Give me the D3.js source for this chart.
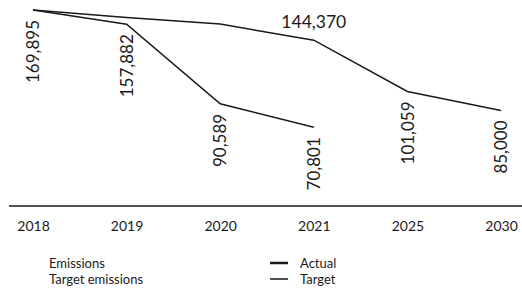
<!DOCTYPE html>
<html>
<head>
<meta charset="utf-8">
<script src="https://cdn.jsdelivr.net/npm/d3@7"></script>
<style>
  body { margin: 0; background: #fff; }
  svg { display: block; font-family: Lato, "Noto Sans", sans-serif; }
</style>
</head>
<body>
<svg id="chart"></svg>
<script>
// categories on the x axis
const years = ["2018", "2019", "2020", "2021", "2025", "2030"];

// actual emissions (only up to 2021)
const actualYears = ["2018", "2019", "2020", "2021"];
const actualValues = [169895, 157882, 90589, 70801];

// target emissions
const targetYears = ["2018", "2019", "2020", "2021", "2025", "2030"];
const targetValues = [169895, 163500, 158000, 144370, 101059, 85000];

// which points get a value label, and how
const verticalLabels = [
    { series: "actual", year: "2018" },
    { series: "actual", year: "2019" },
    { series: "actual", year: "2020" },
    { series: "actual", year: "2021" },
    { series: "target", year: "2025" },
    { series: "target", year: "2030" }
];
const horizontalLabels = [{ series: "target", year: "2021" }];

const legendNames = ["Emissions", "Target emissions"];
const legendKeys = ["Actual", "Target"];

const W = 522, H = 297;
const svg = d3.select("#chart").attr("width", W).attr("height", H);

const x = d3.scalePoint().domain(years).range([33, 501]);
const y = d3.scaleLinear().domain([0, 169895]).range([211, 10]);

const actual = actualYears.map((yr, i) => ({ year: yr, value: actualValues[i] }));
const target = targetYears.map((yr, i) => ({ year: yr, value: targetValues[i] }));
const lookup = { actual: actual, target: target };

const line = d3.line().x(d => x(d.year)).y(d => y(d.value));

svg.append("path")
    .datum(target)
    .attr("fill", "none")
    .attr("stroke", "#1a1a1a")
    .attr("stroke-width", 1.5)
    .attr("d", line);

svg.append("path")
    .datum(actual)
    .attr("fill", "none")
    .attr("stroke", "#1a1a1a")
    .attr("stroke-width", 1.6)
    .attr("d", line);

const fmt = d3.format(",");

// rotated value labels hanging under the points
svg.selectAll(".vlabel")
    .data(verticalLabels.map(l => lookup[l.series].find(d => d.year === l.year)))
    .enter()
    .append("text")
    .attr("class", "vlabel")
    .attr("transform", d => `translate(${x(d.year)},${y(d.value) + 10}) rotate(-90)`)
    .attr("text-anchor", "end")
    .attr("dy", "0.36em")
    .attr("font-size", "17px")
    .attr("fill", "#1a1a1a")
    .text(d => fmt(d.value));

svg.selectAll(".hlabel")
    .data(horizontalLabels.map(l => lookup[l.series].find(d => d.year === l.year)))
    .enter()
    .append("text")
    .attr("class", "hlabel")
    .attr("x", d => x(d.year))
    .attr("y", d => y(d.value) - 12)
    .attr("text-anchor", "middle")
    .attr("font-size", "17.5px")
    .attr("fill", "#1a1a1a")
    .text(d => fmt(d.value));

// x axis
svg.append("line")
    .attr("x1", 9).attr("x2", W)
    .attr("y1", 206).attr("y2", 206)
    .attr("stroke", "#1a1a1a")
    .attr("stroke-width", 1.6);

const xAxis = svg.append("g")
    .attr("transform", "translate(0,206)")
    .call(d3.axisBottom(x).tickSize(0).tickPadding(15));
xAxis.select(".domain").remove();
xAxis.selectAll("text")
    .attr("font-family", "Lato, sans-serif")
    .attr("font-size", "14px")
    .attr("fill", "#1a1a1a");

// legend
const legend = svg.append("g").attr("class", "legend");
legendNames.forEach((name, i) => {
    const ly = 263 + i * 16;
    legend.append("text")
        .attr("x", 49).attr("y", ly)
        .attr("dy", "0.35em")
        .attr("font-size", "13px")
        .attr("fill", "#1a1a1a")
        .text(name);
    legend.append("line")
        .attr("x1", 270).attr("x2", 288)
        .attr("y1", ly).attr("y2", ly)
        .attr("stroke", "#1a1a1a")
        .attr("stroke-width", i === 0 ? 2.5 : 1.5);
    legend.append("text")
        .attr("x", 300).attr("y", ly)
        .attr("dy", "0.35em")
        .attr("font-size", "13px")
        .attr("fill", "#1a1a1a")
        .text(legendKeys[i]);
});
</script>
</body>
</html>
